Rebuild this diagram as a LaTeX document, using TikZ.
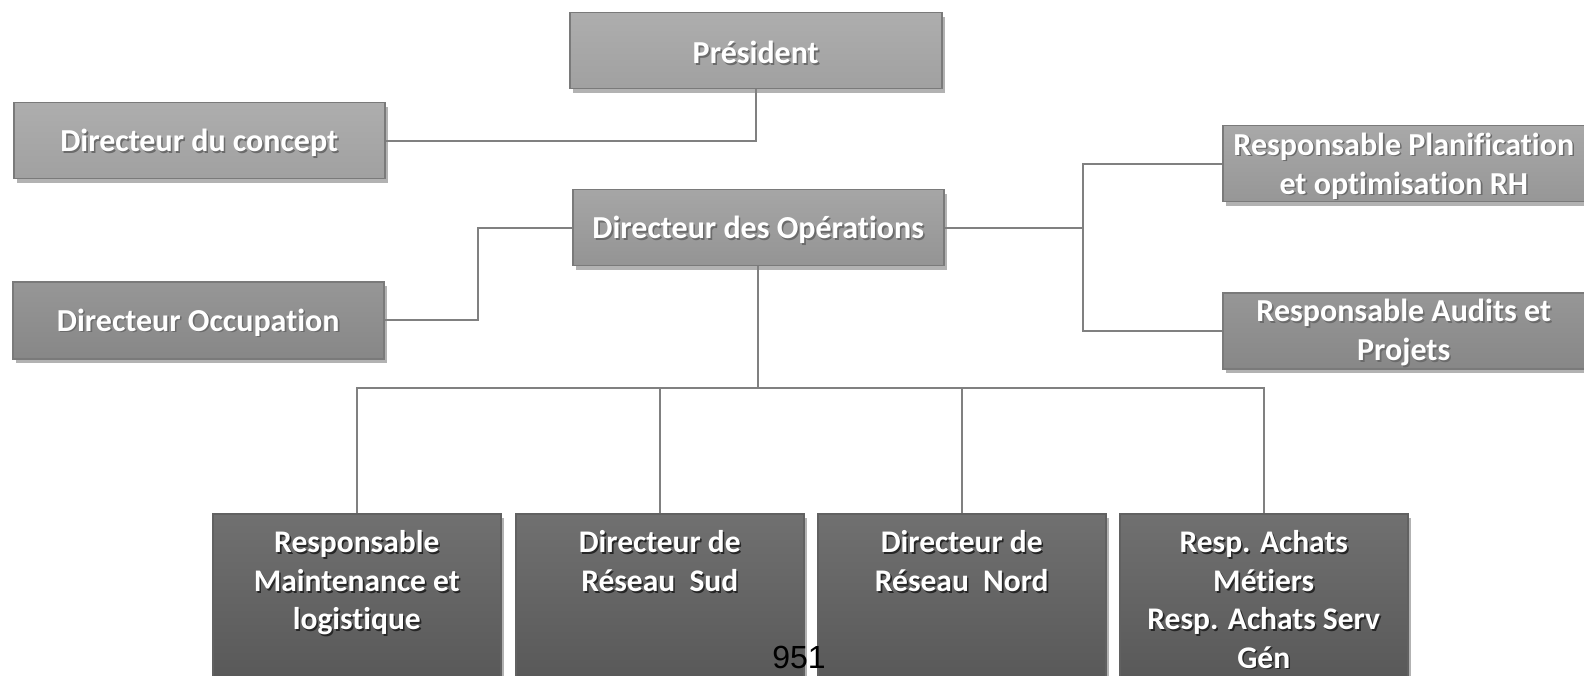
\documentclass[tikz,border=0pt]{standalone}
\usepackage{fontspec}
\setmainfont{Carlito}[Ligatures=NoCommon]
\newfontfamily\arialf{Liberation Sans}
\usetikzlibrary{shadows}
\definecolor{lineg}{HTML}{808080}
\definecolor{boxedge}{HTML}{7A7A7A}
\colorlet{tsh}{black!60}
\newcommand{\sh}[1]{\raisebox{-3pt}[\height][\depth]{\makebox[0pt][l]{\hspace{1.6pt}\raisebox{-1.8pt}{\textcolor{tsh}{#1}}}\textcolor{white}{#1}}}
\tikzset{
  orgbox/.style={draw=boxedge, line width=1.5pt, text=white,
    font=\bfseries\fontsize{32}{39}\selectfont\colorlet{tsh}{black!58}, align=center, inner sep=0pt,
    anchor=north west, rectangle,
    drop shadow={shadow xshift=3pt, shadow yshift=-4pt, opacity=0.3, fill=black}},
  lightbox/.style 2 args={orgbox, top color=black!#1, bottom color=black!#2},
  botbox/.style={orgbox, top color=black!56, bottom color=black!66, draw=black!62,
    minimum width=288pt, minimum height=180pt,
    font=\bfseries\fontsize{31.5}{38.4}\selectfont\colorlet{tsh}{black!85}},
  conn/.style={draw=lineg, line width=1.6pt},
}
\newcommand{\topbox}[1]{\parbox[c][166pt][t]{280pt}{\centering\vspace*{7pt}#1}}
\begin{document}
\begin{tikzpicture}[x=1pt,y=-1pt]
\useasboundingbox (0,0) rectangle (1584,676);
\fill[white] (0,0) rectangle (1584,676);
% upper boxes
\node[lightbox={32}{37}, minimum width=372pt, minimum height=76pt] (pres) at (569,12) {\sh{Président}};
\node[lightbox={32}{37}, minimum width=371pt, minimum height=76pt] (concept) at (13,102) {\sh{Directeur du concept}};
\node[lightbox={35}{42}, minimum width=371pt, minimum height=76pt] (ops) at (572,189) {\sh{Directeur des Opérations}};
\node[lightbox={41}{47}, minimum width=371pt, minimum height=77pt] (occ) at (12,281) {\sh{Directeur Occupation}};
\node[lightbox={34}{41}, minimum width=362pt, minimum height=76pt] (rtop) at (1222,125) {\sh{Responsable Planification}\\\sh{et optimisation RH}};
\node[lightbox={41}{47}, minimum width=362pt, minimum height=76pt] (rbot) at (1222,292) {\sh{Responsable Audits et}\\\sh{Projets}};
% bottom boxes
\node[botbox] (b1) at (212,513) {\topbox{\sh{Responsable}\\\sh{Maintenance et}\\\sh{logistique}}};
\node[botbox] (b2) at (515,513) {\topbox{\sh{Directeur de}\\\sh{Réseau\ \ Sud}}};
\node[botbox] (b3) at (817,513) {\topbox{\sh{Directeur de}\\\sh{Réseau\ \ Nord}}};
\node[botbox] (b4) at (1119,513) {\topbox{\sh{Resp. Achats}\\\sh{Métiers}\\\sh{Resp. Achats Serv}\\\sh{Gén}}};
% junction coordinates
\coordinate (lx) at (478,0);
\coordinate (rx) at (1083,0);
\coordinate (busy) at (0,388);
% connectors
\draw[conn] (pres.south) |- (concept.east);
\draw[conn] (ops.west) -- (ops.west -| lx) |- (occ.east);
\draw[conn] (ops.east) -- (ops.east -| rx);
\draw[conn] (rtop.west) -| (ops.east -| rx) |- (rbot.west);
\draw[conn] (ops.south) -- (ops.south |- busy);
\draw[conn] (b1.north) |- (ops.south |- busy) -| (b4.north);
\draw[conn] (b2.north) -- (b2.north |- busy);
\draw[conn] (b3.north) -- (b3.north |- busy);
% page number
\node[font=\arialf\fontsize{32}{32}\selectfont, text=black, inner sep=0pt] (pg) at (799,657) {951};
\end{tikzpicture}
\end{document}
